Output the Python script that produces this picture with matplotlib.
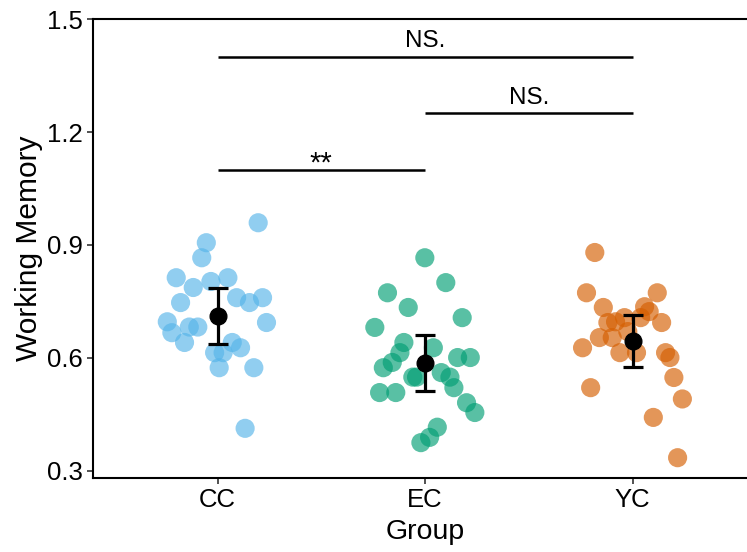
import numpy as np
import matplotlib
matplotlib.use('Agg')
import matplotlib.pyplot as plt

plt.rcParams['font.family'] = ['Liberation Sans', 'DejaVu Sans']

# Groups and colours
groups = ['CC', 'EC', 'YC']
colors = ['#56B4E9', '#009E73', '#D55E00']

# Individual scores and the horizontal jitter of each dot
cc_vals = [0.959, 0.906, 0.866, 0.813, 0.787, 0.803, 0.813, 0.747, 0.760, 0.747, 0.760, 0.696,
           0.667, 0.682, 0.682, 0.694, 0.641, 0.641, 0.627, 0.614, 0.614, 0.574, 0.574, 0.413]
cc_jit = [0.196, -0.054, -0.076, -0.199, -0.117, -0.032, 0.050, -0.178, 0.092, 0.154, 0.217, -0.242,
          -0.220, -0.136, -0.095, 0.236, -0.159, 0.071, 0.111, -0.014, 0.027, 0.008, 0.175, 0.133]

ec_vals = [0.866, 0.800, 0.773, 0.734, 0.707, 0.681, 0.641, 0.627, 0.614, 0.588, 0.574, 0.601, 0.601,
           0.561, 0.549, 0.549, 0.549, 0.521, 0.508, 0.508, 0.481, 0.455, 0.416, 0.389, 0.375]
ec_jit = [-0.001, 0.100, -0.181, -0.081, 0.179, -0.242, -0.102, 0.040, -0.121, -0.158, -0.201, 0.157, 0.218,
          0.078, 0.120, -0.059, -0.041, 0.139, -0.219, -0.141, 0.200, 0.240, 0.059, 0.022, -0.020]

yc_vals = [0.880, 0.773, 0.773, 0.734, 0.736, 0.723, 0.707, 0.707, 0.694, 0.696, 0.694, 0.670,
           0.654, 0.654, 0.627, 0.614, 0.614, 0.614, 0.601, 0.548, 0.521, 0.491, 0.442, 0.335]
yc_jit = [-0.182, -0.222, 0.119, -0.141, 0.058, 0.080, -0.039, 0.039, -0.119, -0.082, 0.140, -0.023,
          -0.160, -0.098, -0.241, -0.061, 0.019, 0.159, 0.180, 0.199, -0.202, 0.240, 0.100, 0.217]

# Group means and error bar half-widths
means = [0.711, 0.586, 0.645]
errs = [0.074, 0.074, 0.068]

# Significance brackets: (from group, to group, height, label)
sig_pairs = [(0, 2, 1.40, 'NS.'), (1, 2, 1.25, 'NS.'), (0, 1, 1.10, '**')]

fig = plt.figure(figsize=(7.47, 5.52), dpi=100)
ax = fig.add_axes([0.1245, 0.134, 0.889, 0.8315])

all_vals = [cc_vals, ec_vals, yc_vals]
all_jit = [cc_jit, ec_jit, yc_jit]
for i in range(3):
    xs = i + 1 + np.array(all_jit[i])
    ax.scatter(xs, all_vals[i], s=190, color=colors[i], alpha=0.65, edgecolors='none', zorder=2)

ax.errorbar(np.arange(1, 4), means, yerr=errs, fmt='o', color='black', markersize=12,
            elinewidth=2.3, capsize=7.5, capthick=2.3, zorder=3)

for a, b, h, lab in sig_pairs:
    ax.plot([a + 1, b + 1], [h, h], color='black', lw=1.8, solid_capstyle='butt')
    if lab == '**':
        ax.text((a + b) / 2 + 1, h - 0.022, lab, ha='center', va='bottom', fontsize=21)
    else:
        ax.text((a + b) / 2 + 1, h + 0.012, lab, ha='center', va='bottom', fontsize=17.5)

ax.set_xlim(0.4, 3.6)
ax.set_ylim(0.281, 1.5)
ax.set_yticks([0.3, 0.6, 0.9, 1.2, 1.5])
ax.set_yticklabels(['0.3', '0.6', '0.9', '1.2', '1.5'])
ax.set_xticks([1, 2, 3])
ax.set_xticklabels(groups)
ax.tick_params(labelsize=18.5, width=1.2, length=4, color='#333333')
ax.set_xlabel('Group', fontsize=20.5, labelpad=5)
ax.set_ylabel('Working Memory', fontsize=21.5, labelpad=3)

for side in ['left', 'bottom', 'top']:
    ax.spines[side].set_linewidth(1.5)
ax.spines['right'].set_visible(False)

fig.savefig('out.png', dpi=100)
